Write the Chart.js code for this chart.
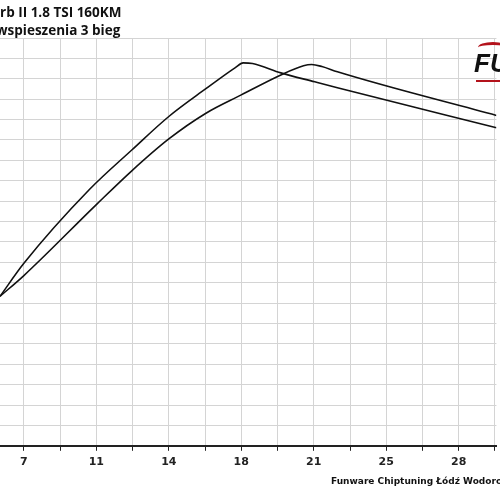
<!DOCTYPE html>
<html>
<head>
<meta charset="utf-8">
<script src="https://cdn.jsdelivr.net/npm/chart.js@4"></script>
<style>
  body { margin: 0; width: 500px; height: 500px; overflow: hidden; background: #fff; position: relative; }
  #wrap { position: absolute; left: 0; top: 0; width: 500px; height: 500px; }
  .title { position: absolute; font: bold 13.5px "Open Sans", sans-serif; color: #111; white-space: nowrap; }
  #foot { position: absolute; left: 331px; top: 476px; font: bold 9px "DejaVu Sans", sans-serif; color: #111; white-space: nowrap; }
  #logo { position: absolute; left: 474px; top: 48px; font: italic bold 26px "Liberation Sans", sans-serif; color: #111; }
  #swoosh { position: absolute; left: 478px; top: 42px; width: 30px; height: 8px; border-top: 3px solid #b3121b; border-radius: 50% 50% 0 0; }
  #redline { position: absolute; left: 476px; top: 80px; width: 24px; height: 2px; background: #b3121b; }
</style>
</head>
<body>
<div id="wrap"><canvas id="myChart" width="500" height="500"></canvas></div>
<div class="title" style="left:0px;top:3px">rb II 1.8 TSI 160KM</div>
<div class="title" style="left:-4px;top:21px">wspieszenia 3 bieg</div>
<div id="swoosh"></div>
<div id="logo">FU</div>
<div id="redline"></div>
<div id="foot">Funware Chiptuning Łódź Wodorowa 1</div>
<script>
// speed-ish axis values
const seriesAX = [5.83, 7.0, 10.21, 12.3, 14.1, 15.9, 17.36, 17.74, 18.2, 19.59, 21.25, 22.36, 30.15];
const seriesAY = [7.33, 8.95, 12.57, 14.52, 16.15, 17.5, 18.55, 18.78, 18.75, 18.29, 17.85, 17.56, 15.6];
const seriesBX = [5.83, 7.0, 10.55, 12.3, 14.1, 15.9, 17.65, 19.59, 20.7, 21.1, 21.6, 22.36, 30.15];
const seriesBY = [7.33, 8.35, 11.83, 13.5, 15.05, 16.3, 17.21, 18.19, 18.64, 18.7, 18.6, 18.34, 16.2];

const xTicks = [7.0, 8.78, 10.55, 12.33, 14.1, 15.88, 17.65, 19.43, 21.2, 22.98, 24.75, 26.53, 28.3, 30.08];
const xLabels = ["7", "", "11", "", "14", "", "18", "", "21", "", "25", "", "28", ""];

const toPoints = (xs, ys) => xs.map((x, i) => ({ x: x, y: ys[i] }));

const lineStyle = {
  borderColor: "#111",
  borderWidth: 1.6,
  pointRadius: 0,
  cubicInterpolationMode: "monotone",
  fill: false,
};

new Chart(document.getElementById("myChart"), {
  type: "line",
  data: {
    datasets: [
      { ...lineStyle, label: "A", data: toPoints(seriesAX, seriesAY) },
      { ...lineStyle, label: "B", data: toPoints(seriesBX, seriesBY) },
    ],
  },
  options: {
    responsive: false,
    animation: false,
    layout: { padding: { top: 38, left: 0, right: 1, bottom: 26 } },
    plugins: { legend: { display: false }, tooltip: { enabled: false } },
    scales: {
      x: {
        type: "linear",
        min: 5.83,
        max: 30.15,
        afterBuildTicks: (scale) => {
          scale.ticks = xTicks.map((v) => ({ value: v }));
        },
        ticks: {
          autoSkip: false,
          maxRotation: 0,
          color: "#222",
          font: { family: "DejaVu Sans", size: 11, weight: "bold" },
          padding: 5,
          callback: (v, i) => xLabels[i],
        },
        grid: { color: "#d4d4d4", tickColor: "#222", tickLength: 5 },
        border: { color: "#222", width: 2 },
      },
      y: {
        min: 0,
        max: 20,
        ticks: { display: false, stepSize: 1 },
        grid: { color: "#d4d4d4", drawTicks: false },
        border: { display: false },
      },
    },
  },
});
</script>
</body>
</html>
